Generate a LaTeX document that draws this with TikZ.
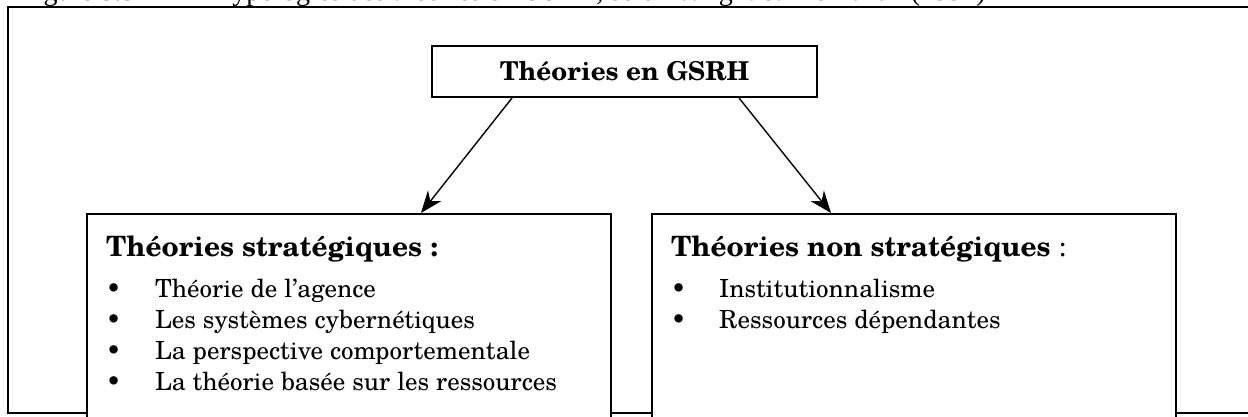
\documentclass[tikz,border=0pt]{standalone}
\usepackage{fontspec}
\setmainfont{TeX Gyre Schola}
\newfontfamily\capfont{Liberation Serif}
\usetikzlibrary{arrows.meta,calc}

\begin{document}
\begin{tikzpicture}[x=1pt,y=-1pt,
  frame/.style={draw, line width=2.4pt},
  box/.style={draw, line width=2pt, fill=white, inner sep=0pt},
  link/.style={line width=1.4pt, -{Stealth[length=22pt,width=17pt,inset=7pt]}},
  captext/.style={anchor=base west, inner sep=0pt, font=\capfont\fontsize{28}{32}\selectfont},
  head/.style={anchor=base west, inner sep=0pt, font=\bfseries\fontsize{28}{34}\selectfont},
  item/.style={anchor=base west, inner sep=0pt, font=\fontsize{25}{30}\selectfont},
  dot/.style={anchor=base west, inner sep=0pt, font=\fontsize{25}{30}\selectfont}
]
\useasboundingbox (0,0) rectangle (1248,417);
\clip (0,0) rectangle (1248,417);

% figure caption, above the frame
\node[captext] (figno) at (20,1) {Figure 3.3};
\node[captext] (figtitle) at (217,1) {Typologies des théories en GSRH, selon Wright et McMahan (1992)};

% outer frame
\draw[frame] (8,7) rectangle (1290,413);

% root box
\node[box, minimum width=385pt, minimum height=51pt,
      font=\bfseries\fontsize{26}{31}\selectfont] (root) at (624.5,71.5) {Théories en GSRH};

% the two families of theories
\node[box, anchor=north west, minimum width=524pt, minimum height=240pt] (strat) at (86,213) {};
\node[box, anchor=north west, minimum width=524pt, minimum height=240pt] (nonstrat) at (651,213) {};

% connectors
\draw[link] ($(root.south)+(-112.5,0)$) -- ($(strat.north)+(72,0)$);
\draw[link] ($(root.south)+(114.5,0)$) -- ($(nonstrat.north)+(-83,0)$);

% strategic theories
\node[head] (stratTitle) at (106,256) {Théories stratégiques :};
\node[dot] (sb1) at (106,297) {\textbullet};
\node[item] (si1) at (155,297) {Théorie de l’agence};
\node[dot] (sb2) at (106,328) {\textbullet};
\node[item] (si2) at (155,328) {Les systèmes cybernétiques};
\node[dot] (sb3) at (106,359) {\textbullet};
\node[item] (si3) at (155,359) {La perspective comportementale};
\node[dot] (sb4) at (106,390) {\textbullet};
\node[item] (si4) at (155,390) {La théorie basée sur les ressources};

% non-strategic theories
\node[head] (nonTitle) at (671,256) {Théories non stratégiques\mdseries\ :};
\node[dot] (nb1) at (671,297) {\textbullet};
\node[item] (ni1) at (719,297) {Institutionnalisme};
\node[dot] (nb2) at (671,328) {\textbullet};
\node[item] (ni2) at (719,328) {Ressources dépendantes};
\end{tikzpicture}
\end{document}
